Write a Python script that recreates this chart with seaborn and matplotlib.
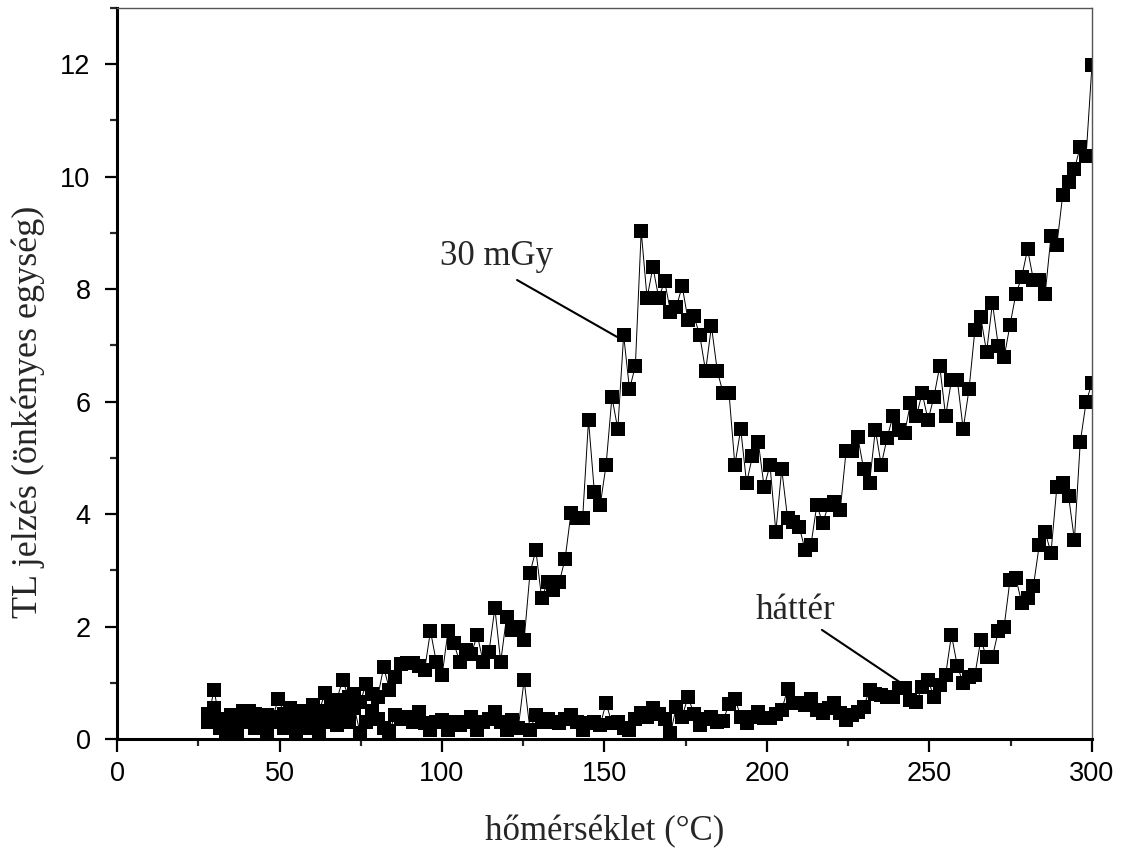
import numpy as np
import pandas as pd
import matplotlib
matplotlib.use("Agg")
import matplotlib.pyplot as plt
from matplotlib.ticker import MultipleLocator
import seaborn as sns

# Temperature readout grid (°C), one reading every ~1.8 °C
temperature = np.linspace(28, 300, 152)

# TL signal after 30 mGy dose (arbitrary units)
signal_30mgy = [
    0.30, 0.88, 0.35, 0.25, 0.42, 0.30, 0.50, 0.38, 0.45, 0.30,
    0.42, 0.35, 0.72, 0.45, 0.55, 0.35, 0.50, 0.42, 0.60, 0.50,
    0.82, 0.60, 0.70, 1.05, 0.75, 0.80, 0.65, 0.98, 0.80, 0.75,
    1.28, 0.88, 1.10, 1.33, 1.35, 1.35, 1.30, 1.23, 1.92, 1.37,
    1.14, 1.92, 1.70, 1.37, 1.58, 1.52, 1.85, 1.37, 1.55, 2.33,
    1.37, 2.17, 1.94, 2.00, 1.76, 2.95, 3.36, 2.50, 2.79, 2.65,
    2.79, 3.20, 4.02, 3.93, 3.93, 5.67, 4.39, 4.16, 4.87, 6.08,
    5.51, 7.18, 6.22, 6.63, 9.03, 7.84, 8.39, 7.84, 8.14, 7.60,
    7.68, 8.05, 7.45, 7.52, 7.18, 6.54, 7.34, 6.54, 6.15, 6.15,
    4.87, 5.51, 4.55, 5.03, 5.28, 4.48, 4.87, 3.68, 4.80, 3.93,
    3.86, 3.77, 3.36, 3.45, 4.16, 3.84, 4.16, 4.21, 4.07, 5.12,
    5.12, 5.37, 4.80, 4.55, 5.50, 4.87, 5.35, 5.74, 5.50, 5.44,
    5.97, 5.74, 6.15, 5.67, 6.08, 6.63, 5.74, 6.38, 6.38, 5.51,
    6.22, 7.27, 7.50, 6.88, 7.75, 6.99, 6.79, 7.36, 7.91, 8.21,
    8.71, 8.16, 8.16, 7.91, 8.94, 8.78, 9.67, 9.90, 10.13, 10.53,
    10.37, 11.98,
]

# Background TL signal (arbitrary units)
signal_background = [
    0.45, 0.55, 0.20, 0.10, 0.35, 0.15, 0.30, 0.50, 0.20, 0.35,
    0.15, 0.30, 0.40, 0.20, 0.30, 0.10, 0.25, 0.20, 0.35, 0.10,
    0.30, 0.40, 0.25, 0.50, 0.30, 0.55, 0.10, 0.30, 0.50, 0.35,
    0.20, 0.15, 0.42, 0.35, 0.40, 0.30, 0.48, 0.28, 0.16, 0.30,
    0.34, 0.16, 0.30, 0.25, 0.30, 0.39, 0.16, 0.30, 0.35, 0.48,
    0.30, 0.16, 0.34, 0.20, 1.05, 0.16, 0.43, 0.30, 0.35, 0.30,
    0.28, 0.35, 0.43, 0.30, 0.16, 0.28, 0.30, 0.25, 0.64, 0.28,
    0.30, 0.20, 0.16, 0.35, 0.46, 0.40, 0.55, 0.45, 0.35, 0.10,
    0.57, 0.40, 0.75, 0.45, 0.25, 0.35, 0.40, 0.30, 0.32, 0.63,
    0.72, 0.40, 0.28, 0.39, 0.48, 0.37, 0.37, 0.45, 0.51, 0.89,
    0.64, 0.64, 0.60, 0.72, 0.51, 0.46, 0.55, 0.64, 0.46, 0.34,
    0.43, 0.48, 0.57, 0.87, 0.80, 0.78, 0.75, 0.75, 0.90, 0.90,
    0.69, 0.66, 0.92, 1.05, 0.75, 0.96, 1.14, 1.85, 1.30, 0.99,
    1.10, 1.14, 1.76, 1.46, 1.46, 1.92, 2.00, 2.83, 2.86, 2.42,
    2.51, 2.72, 3.45, 3.68, 3.31, 4.48, 4.55, 4.32, 3.54, 5.28,
    5.99, 6.33,
]

x_ticks = [0, 50, 100, 150, 200, 250, 300]
y_ticks = [0, 2, 4, 6, 8, 10, 12]
x_label = "hőmérséklet (°C)"
y_label = "TL jelzés (önkényes egység)"
label_30mgy = "30 mGy"
label_background = "háttér"

df = pd.DataFrame({
    "T": np.concatenate([temperature, temperature]),
    "TL": np.concatenate([signal_30mgy, signal_background]),
    "series": [label_30mgy] * len(temperature) + [label_background] * len(temperature),
})

sns.set_style("ticks")
plt.rcParams["font.family"] = ["Liberation Sans", "DejaVu Sans"]

fig = plt.figure(figsize=(11.24, 8.52), dpi=100)
ax = fig.add_axes([0.1041, 0.1326, 0.8674, 0.8583])

for name in [label_background, label_30mgy]:
    sns.lineplot(
        data=df[df["series"] == name], x="T", y="TL", ax=ax,
        color="black", linewidth=0.7, marker="s", markersize=10,
        markeredgecolor="black", markeredgewidth=0, estimator=None,
        sort=False, legend=False,
    )

ax.set_xlim(0, 300)
ax.set_ylim(0, 13)
ax.set_xticks(x_ticks)
ax.set_yticks(y_ticks)
ax.xaxis.set_minor_locator(MultipleLocator(25))
ax.yaxis.set_minor_locator(MultipleLocator(1))
ax.tick_params(which="major", direction="out", length=9, width=1.6,
               labelsize=19.5, colors="black")
ax.tick_params(axis="x", which="major", pad=7)
ax.tick_params(axis="y", which="major", pad=10)
ax.tick_params(which="minor", direction="out", length=5, width=1.6)

for side in ["left", "bottom"]:
    ax.spines[side].set_linewidth(2.2)
    ax.spines[side].set_color("black")
for side in ["top", "right"]:
    ax.spines[side].set_visible(True)
    ax.spines[side].set_linewidth(1.0)
    ax.spines[side].set_color("#555555")

serif = ["Liberation Serif", "DejaVu Serif"]
ax.set_xlabel(x_label, family=serif, fontsize=25, labelpad=20)
ax.set_ylabel(y_label, family=serif, fontsize=26)
ax.yaxis.set_label_coords(-0.074, 0.447)

# Labels with leader lines pointing at each curve
ax.text(116.9, 8.57, label_30mgy, family=serif, fontsize=25,
        ha="center", va="center")
ax.annotate("", xy=(153.8, 7.15), xytext=(123.1, 8.16),
            arrowprops=dict(arrowstyle="-", lw=1.5, color="black",
                            shrinkA=0, shrinkB=0))
ax.text(208.9, 2.29, label_background, family=serif, fontsize=25,
        ha="center", va="center")
ax.annotate("", xy=(240.9, 1.01), xytext=(216.9, 1.94),
            arrowprops=dict(arrowstyle="-", lw=1.5, color="black",
                            shrinkA=0, shrinkB=0))

fig.savefig("out.png", dpi=100, facecolor="white")
